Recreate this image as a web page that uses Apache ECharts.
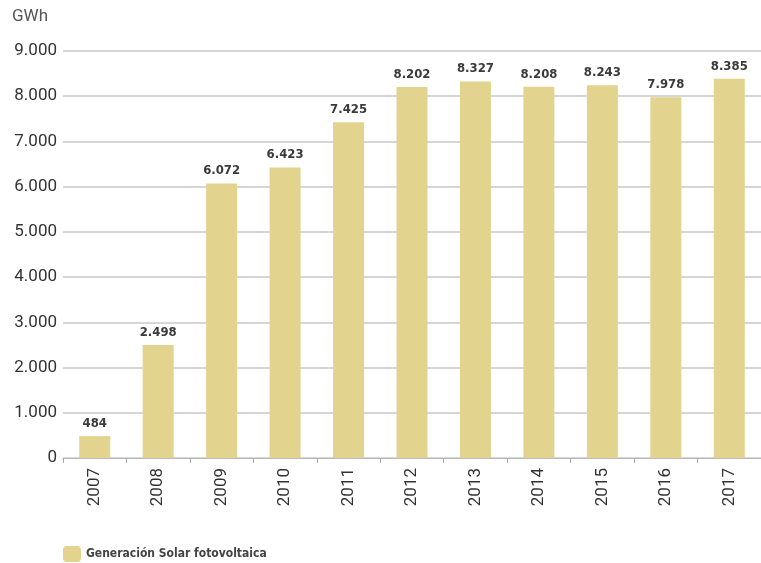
<!DOCTYPE html>
<html>
<head>
<meta charset="utf-8">
<script src="https://cdn.jsdelivr.net/npm/echarts@6/dist/echarts.min.js"></script>
<style>
html, body { margin: 0; padding: 0; background: #fff; }
#chart { width: 761px; height: 563px; }
</style>
</head>
<body>
<div id="chart"></div>
<script>
// Annual photovoltaic solar generation (GWh)
const years = ['2007', '2008', '2009', '2010', '2011', '2012', '2013', '2014', '2015', '2016', '2017'];
const generation = [484, 2498, 6072, 6423, 7425, 8202, 8327, 8208, 8243, 7978, 8385];
const seriesName = 'Generación Solar fotovoltaica';
const unitLabel = 'GWh';

// Spanish thousands separator
function fmt(v) {
  return String(v).replace(/\B(?=(\d{3})+(?!\d))/g, '.');
}

const condensed = 'DejaVu Sans Condensed';

const chart = echarts.init(document.getElementById('chart'));
chart.setOption({
  animation: false,
  backgroundColor: '#ffffff',
  graphic: [{
    type: 'text',
    left: 12,
    top: 8,
    style: { text: unitLabel, fontFamily: 'Roboto', fontSize: 17, fill: '#555' }
  }],
  legend: {
    left: 58,
    top: 541,
    itemWidth: 18,
    itemHeight: 16,
    itemGap: 10,
    data: [seriesName],
    textStyle: {
      fontFamily: condensed,
      fontWeight: 'bold',
      fontSize: 12,
      color: '#444'
    }
  },
  grid: { left: 63, right: -6, top: 51, height: 407 },
  xAxis: {
    type: 'category',
    data: years,
    axisLine: { lineStyle: { color: '#bbb', width: 1 } },
    axisTick: { show: true, length: 5, lineStyle: { color: '#aaa' } },
    axisLabel: {
      rotate: 90,
      margin: 10,
      fontFamily: 'Roboto',
      fontSize: 17,
      color: '#333'
    }
  },
  yAxis: {
    type: 'value',
    min: 0,
    max: 9000,
    interval: 1000,
    axisLine: { show: false },
    axisTick: { show: false },
    splitLine: { lineStyle: { color: '#c8c8c8', width: 1.5 } },
    axisLabel: {
      margin: 6,
      fontFamily: 'Roboto',
      fontSize: 17,
      color: '#333',
      formatter: v => fmt(v)
    }
  },
  series: [{
    name: seriesName,
    type: 'bar',
    data: generation,
    barWidth: 31,
    itemStyle: { color: '#e2d38e' },
    label: {
      show: true,
      position: 'top',
      distance: 6,
      fontFamily: condensed,
      fontWeight: 'bold',
      fontSize: 13,
      color: '#3a3a3a',
      formatter: p => fmt(p.value)
    }
  }]
});
</script>
</body>
</html>
